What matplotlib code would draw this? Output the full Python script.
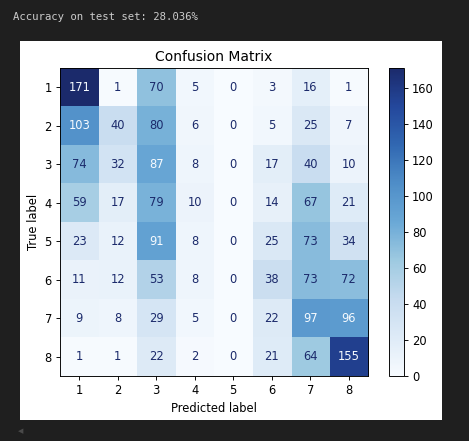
import matplotlib
matplotlib.use("Agg")
import matplotlib.pyplot as plt
from matplotlib.colors import LinearSegmentedColormap
from matplotlib.patches import Rectangle
import numpy as np

class_labels = ["1", "2", "3", "4", "5", "6", "7", "8"]
confusion = [
    [171, 1, 70, 5, 0, 3, 16, 1],
    [103, 40, 80, 6, 0, 5, 25, 7],
    [74, 32, 87, 8, 0, 17, 40, 10],
    [59, 17, 79, 10, 0, 14, 67, 21],
    [23, 12, 91, 8, 0, 25, 73, 34],
    [11, 12, 53, 8, 0, 38, 73, 72],
    [9, 8, 29, 5, 0, 22, 97, 96],
    [1, 1, 22, 2, 0, 21, 64, 155],
]
accuracy_text = "Accuracy on test set: 28.036%"
colorbar_ticks = [0, 20, 40, 60, 80, 100, 120, 140, 160]

W, H = 469, 441
dark = "#1f1f1f"
scale = 0.83  # the notebook shows the figure shrunk

# "Blues" as it shows on the screenshot (dark end a little more purple)
blues_shown = LinearSegmentedColormap.from_list(
    "blues_shown",
    ["#f7fbff", "#deebf7", "#c6dbef", "#9ecae1", "#6aa8d6",
     "#4f8ec8", "#3168b2", "#24489c", "#1b2a6b"],
)

fig = plt.figure(figsize=(W / 100, H / 100), dpi=100, facecolor=dark)

# notebook output text
fig.text(13 / W, 1 - 17 / H, accuracy_text, family="DejaVu Sans Mono",
         fontsize=7.7, color="#cccccc", ha="left", va="center")

# white figure area
fig.patches.append(Rectangle((20 / W, 1 - 420 / H), 422 / W, 379 / H,
                             transform=fig.transFigure, facecolor="white",
                             edgecolor="none", zorder=-10))

# scroll indicator
fig.text(21 / W, 1 - 431 / H, "◀", fontsize=5, color="#4a4a4a",
         ha="center", va="center")

cm = np.array(confusion)
cmap = blues_shown

ax = fig.add_axes([60 / W, 1 - 376 / H, 308 / W, 308 / H])
cax = fig.add_axes([389 / W, 1 - 376 / H, 15 / W, 308 / H])

im = ax.imshow(cm, cmap=cmap, interpolation="nearest", aspect="auto")
thresh = (cm.max() + cm.min()) / 2.0
for i in range(cm.shape[0]):
    for j in range(cm.shape[1]):
        color = cmap(0.0) if cm[i, j] > thresh else cmap(1.0)
        ax.text(j, i, str(cm[i, j]), ha="center", va="center",
                color=color, fontsize=10 * scale)

ax.set_xticks(range(len(class_labels)))
ax.set_xticklabels(class_labels)
ax.set_yticks(range(len(class_labels)))
ax.set_yticklabels(class_labels)
ax.set_xlabel("Predicted label", fontsize=10 * scale, labelpad=4 * scale)
ax.set_ylabel("True label", fontsize=10 * scale, labelpad=4 * scale)
ax.set_title("Confusion Matrix", fontsize=12 * scale, pad=6 * scale)
ax.tick_params(labelsize=10 * scale, length=3.5 * scale, width=0.8 * scale,
               pad=3.5 * scale)
for s in ax.spines.values():
    s.set_linewidth(0.8 * scale)

cb = fig.colorbar(im, cax=cax, ticks=colorbar_ticks)
cb.ax.tick_params(labelsize=10 * scale, length=3.5 * scale,
                  width=0.8 * scale, pad=3.5 * scale)
cb.outline.set_linewidth(0.8 * scale)

fig.savefig("out.png", dpi=100, facecolor=dark)
